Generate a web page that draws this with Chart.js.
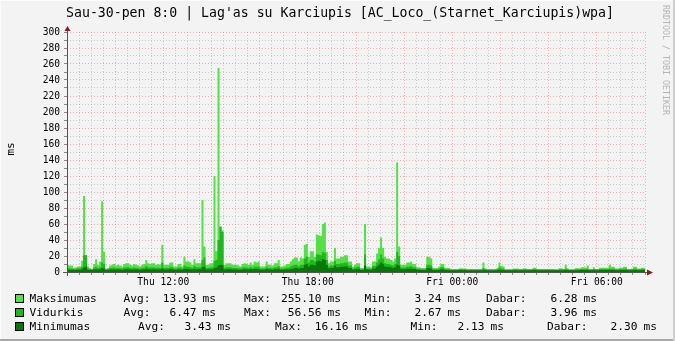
<!DOCTYPE html>
<html>
<head>
<meta charset="utf-8">
<script src="https://cdn.jsdelivr.net/npm/chart.js@4/dist/chart.umd.min.js"></script>
<style>
  html, body { margin: 0; padding: 0; background: #F3F3F3; }
  #graph { display: block; }
</style>
</head>
<body>
<canvas id="graph" width="675" height="341"></canvas>
<script>
/* RRD style lag graph - Karciupis AP */

const chartTitle = "Sau-30-pen 8:0 | Lag'as su Karciupis [AC_Loco_(Starnet_Karciupis)wpa]";
const yAxisTitle = 'ms';
const watermark = 'RRDTOOL / TOBI OETIKER';

// 5 minute steps, Thu 08:00 -> Fri 08:00
const stepMinutes = 5;
const xTickMinutes = [240, 600, 960, 1320];
const xTickLabels = ['Thu 12:00', 'Thu 18:00', 'Fri 00:00', 'Fri 06:00'];

const maxValues = [
  9, 9, 8, 8, 5, 6, 7, 7, 14, 95, 21, 7, 5, 4, 10, 16, 9, 13, 88, 25, 4, 5, 8, 9,
  10, 8, 9, 8, 7, 10, 11, 11, 9, 8, 10, 9, 8, 7, 9, 10, 15, 11, 10, 11, 11, 9, 10, 9,
  34, 9, 9, 9, 12, 12, 7, 7, 10, 10, 7, 19, 13, 13, 12, 9, 16, 11, 11, 11, 90, 32, 9, 9,
  11, 11, 120, 26, 255.1, 57, 52, 9, 11, 11, 11, 9, 9, 9, 8, 7, 10, 11, 10, 9, 12, 9, 13, 12,
  13, 7, 7, 7, 13, 9, 9, 8, 11, 11, 15, 7, 7, 8, 10, 10, 13, 16, 18, 18, 13, 18, 17, 34,
  35, 19, 26, 26, 19, 47, 46, 45, 60, 62, 25, 11, 13, 13, 30, 17, 17, 19, 19, 21, 21, 13, 13, 7,
  9, 11, 11, 5, 5, 60, 7, 7, 6, 13, 13, 23, 30, 43, 30, 19, 17, 17, 15, 13, 17, 137, 32, 9,
  9, 9, 12, 12, 13, 10, 10, 6, 6, 5, 5, 5, 19, 19, 17, 5, 5, 5, 7, 10, 10, 5, 5, 5,
  3.3, 3.4, 3.3, 3.5, 4.5, 4.6, 4.4, 4.5, 3.4, 3.3, 3.5, 3.3, 3.4, 3.3, 3.3, 3.4, 12, 4.5, 3.5, 3.4, 3.4, 3.3, 3.4, 5,
  12, 7.5, 7, 3.4, 3.3, 3.5, 3.4, 4.5, 4.4, 4.5, 3.8, 3.9, 4.5, 4.6, 3.8, 3.7, 3.8, 5.4, 5.3, 3.8, 3.7, 3.8, 3.9, 3.8,
  3.8, 3.9, 3.8, 3.8, 3.3, 3.3, 4.6, 4.6, 3.8, 9, 4.5, 3.3, 3.3, 3.4, 4.6, 4.6, 4.7, 5.8, 5.8, 5.7, 8, 3.8, 3.8, 5.8,
  3.8, 3.8, 5.4, 5.4, 5.4, 5.3, 5.4, 9, 6.7, 6.6, 4.5, 4.5, 5.4, 5.3, 6.7, 6.7, 3.8, 3.8, 4.5, 6.7, 6.6, 4.5, 4.5, 5.4
];

const avgValues = [
  4.5, 4.6, 4.4, 4.2, 3.6, 4.0, 4.5, 4.6, 6.5, 21, 21, 4.5, 3.8, 3.5, 5.5, 6.5, 5.0, 6.0, 12, 10, 3.5, 4.0, 5.0, 5.2,
  5.5, 4.8, 5.0, 4.8, 4.5, 5.5, 6.0, 5.8, 5.0, 4.8, 5.5, 5.0, 4.8, 4.5, 5.2, 5.5, 7.5, 6.0, 5.5, 6.0, 6.0, 5.2, 5.5, 5.0,
  12, 5.0, 5.2, 5.0, 6.5, 6.0, 4.5, 4.5, 5.5, 5.5, 4.5, 8.0, 6.5, 6.5, 6.0, 5.2, 7.5, 6.0, 6.0, 6.0, 15, 18, 5.0, 5.2,
  6.0, 6.0, 14, 15, 40, 56.56, 50, 5.0, 6.0, 6.0, 6.0, 5.0, 5.2, 5.0, 4.8, 4.5, 5.5, 6.0, 5.5, 5.0, 6.5, 5.0, 7.0, 6.5,
  7.0, 4.5, 4.5, 4.5, 7.0, 5.0, 5.0, 4.8, 6.0, 6.0, 7.5, 4.5, 4.5, 4.8, 5.5, 5.5, 7.0, 8.0, 9.0, 9.0, 7.0, 9.0, 9.0, 17,
  19, 12, 15, 15, 13, 22, 22, 21, 25, 24, 15, 7.0, 8.0, 8.0, 14, 10, 10, 11, 11, 12, 12, 8.0, 8.0, 4.5,
  5.5, 6.5, 6.5, 3.5, 3.5, 22, 4.5, 4.5, 4.0, 7.5, 7.5, 12, 16, 22, 17, 11, 10, 10, 9.0, 8.0, 10, 25, 20, 5.5,
  5.5, 5.5, 7.0, 7.0, 7.5, 6.0, 6.0, 4.0, 4.0, 3.5, 3.5, 3.5, 9.0, 9.0, 8.0, 3.5, 3.5, 3.5, 4.5, 6.0, 6.0, 3.5, 3.4, 3.3,
  3.0, 3.1, 3.0, 3.2, 3.4, 3.5, 3.3, 3.4, 3.1, 3.0, 3.2, 3.0, 3.1, 3.0, 3.0, 3.1, 5.0, 3.5, 3.2, 3.1, 3.1, 3.0, 3.1, 3.5,
  6.0, 4.5, 4.2, 2.9, 2.8, 3.0, 2.9, 3.4, 3.3, 3.4, 3.1, 3.2, 3.4, 3.5, 3.1, 3.0, 3.1, 3.8, 3.7, 3.1, 3.0, 3.1, 3.2, 3.1,
  3.1, 3.2, 3.1, 3.1, 2.8, 2.67, 3.4, 3.4, 3.1, 4.5, 3.4, 2.8, 2.8, 2.9, 3.4, 3.4, 3.5, 3.8, 3.8, 3.7, 4.0, 3.1, 3.1, 3.8,
  3.1, 3.1, 3.7, 3.7, 3.7, 3.6, 3.7, 4.5, 4.0, 4.0, 3.4, 3.4, 3.7, 3.6, 4.0, 4.0, 3.1, 3.1, 3.4, 4.0, 4.0, 3.4, 3.4, 3.7
];

const minValues = [
  2.8, 2.9, 2.8, 2.7, 2.5, 2.6, 2.8, 2.9, 3.5, 6.0, 6.5, 2.8, 2.6, 2.5, 3.2, 3.5, 3.0, 3.4, 5.0, 4.5, 2.5, 2.6, 3.0, 3.1,
  3.2, 3.0, 3.1, 3.0, 2.9, 3.2, 3.4, 3.3, 3.1, 3.0, 3.2, 3.1, 3.0, 2.9, 3.1, 3.2, 4.0, 3.4, 3.2, 3.4, 3.4, 3.1, 3.2, 3.0,
  4.5, 3.0, 3.1, 3.0, 3.6, 3.4, 2.9, 2.9, 3.2, 3.2, 2.9, 4.0, 3.6, 3.6, 3.4, 3.1, 4.0, 3.4, 3.4, 3.4, 6.0, 7.0, 3.0, 3.1,
  3.4, 3.4, 5.0, 5.5, 8.0, 9.0, 8.5, 3.0, 3.4, 3.4, 3.4, 3.0, 3.1, 3.0, 2.9, 2.8, 3.2, 3.4, 3.2, 3.0, 3.6, 3.0, 3.8, 3.6,
  3.8, 2.9, 2.9, 2.9, 3.8, 3.0, 3.0, 2.9, 3.4, 3.4, 4.0, 2.9, 2.9, 3.0, 3.2, 3.2, 3.8, 4.2, 5.0, 5.0, 4.0, 5.0, 5.0, 9.0,
  10, 7.0, 9.0, 9.0, 8.0, 13, 14, 13, 16.16, 15, 9.0, 4.5, 5.0, 5.0, 8.0, 6.0, 6.0, 6.5, 6.5, 7.0, 7.0, 5.0, 5.0, 3.0,
  3.4, 3.8, 3.8, 2.5, 2.5, 8.0, 3.0, 3.0, 2.8, 4.5, 4.5, 7.0, 9.0, 12, 10, 7.0, 6.5, 6.5, 6.0, 5.0, 6.0, 9.0, 8.0, 3.4,
  3.4, 3.4, 4.0, 4.0, 4.2, 3.6, 3.6, 2.8, 2.8, 2.5, 2.5, 2.5, 5.0, 5.0, 4.5, 2.5, 2.5, 2.5, 2.9, 3.5, 3.5, 2.5, 2.4, 2.3,
  2.2, 2.3, 2.2, 2.3, 2.4, 2.4, 2.3, 2.4, 2.2, 2.2, 2.3, 2.2, 2.2, 2.2, 2.2, 2.3, 2.8, 2.4, 2.3, 2.2, 2.2, 2.2, 2.2, 2.4,
  2.9, 2.6, 2.5, 2.2, 2.13, 2.2, 2.2, 2.3, 2.3, 2.3, 2.2, 2.2, 2.3, 2.3, 2.2, 2.2, 2.2, 2.5, 2.5, 2.2, 2.2, 2.2, 2.3, 2.2,
  2.2, 2.3, 2.2, 2.2, 2.15, 2.15, 2.3, 2.3, 2.2, 2.6, 2.3, 2.15, 2.15, 2.2, 2.3, 2.3, 2.4, 2.5, 2.5, 2.5, 2.6, 2.2, 2.2, 2.5,
  2.2, 2.2, 2.4, 2.4, 2.4, 2.4, 2.4, 2.6, 2.5, 2.5, 2.3, 2.3, 2.4, 2.4, 2.5, 2.5, 2.2, 2.2, 2.3, 2.5, 2.5, 2.3, 2.3, 2.4
];

// legend
const seriesNames = ['Maksimumas', 'Vidurkis', 'Minimumas'];
const seriesColors = ['#55E04A', '#1EB81E', '#0A760A'];
const statAvg = ['13.93', '6.47', '3.43'];
const statMax = ['255.10', '56.56', '16.16'];
const statMin = ['3.24', '2.67', '2.13'];
const statNow = ['6.28', '3.96', '2.30'];

const MONO = '"DejaVu Sans Mono", monospace';
const MINOR = 'rgba(150,150,150,0.45)';
const MAJOR = 'rgba(220,100,100,0.45)';

function toPoints(values) {
  const pts = values.map((v, i) => ({ x: i * stepMinutes, y: v }));
  pts.push({ x: values.length * stepMinutes, y: values[values.length - 1] });
  return pts;
}

function areaDataset(label, values, color) {
  return {
    label,
    data: toPoints(values),
    stepped: 'after',
    fill: 'origin',
    backgroundColor: color,
    borderColor: 'rgba(0,0,0,0)',
    borderWidth: 0,
    pointRadius: 0,
    tension: 0
  };
}

// legend row layout: label x positions (Avg:, Max:, Min:, Dabar:) and unit x positions
const legendLabelX = [
  [124, 244.5, 365, 486.5],
  [124, 244.5, 365, 486.5],
  [138.5, 275.5, 411, 547.5]
];
const legendUnitX = [
  [203, 328, 448, 584],
  [203, 328, 448, 584],
  [218, 355, 491, 644]
];

const rrdDecor = {
  id: 'rrdDecor',
  beforeDraw(chart) {
    const c = chart.ctx;
    c.save();
    c.fillStyle = '#F3F3F3';
    c.fillRect(0, 0, chart.width, chart.height);
    c.restore();
  },
  afterDatasetsDraw(chart) {
    const c = chart.ctx;
    const a = chart.chartArea;
    c.save();
    // axes
    c.strokeStyle = '#555';
    c.lineWidth = 1;
    c.beginPath();
    c.moveTo(a.left + 0.5, a.bottom + 4);
    c.lineTo(a.left + 0.5, a.top - 3);
    c.moveTo(a.left - 4, a.bottom + 0.5);
    c.lineTo(a.right + 3, a.bottom + 0.5);
    c.stroke();
    // arrows
    c.fillStyle = '#8B1A1A';
    c.beginPath();
    c.moveTo(a.left + 0.5, a.top - 6);
    c.lineTo(a.left - 2.5, a.top - 1);
    c.lineTo(a.left + 3.5, a.top - 1);
    c.closePath();
    c.fill();
    c.beginPath();
    c.moveTo(a.right + 8, a.bottom + 0.5);
    c.lineTo(a.right + 2, a.bottom - 2.5);
    c.lineTo(a.right + 2, a.bottom + 3.5);
    c.closePath();
    c.fill();
    c.restore();
  },
  afterDraw(chart) {
    const c = chart.ctx;
    c.save();
    c.fillStyle = '#000';
    c.textBaseline = 'middle';

    // title
    c.font = '13.2px ' + MONO;
    c.textAlign = 'center';
    c.fillText(chartTitle, 340, 14);

    // y axis title
    c.save();
    c.translate(11, 149);
    c.rotate(-Math.PI / 2);
    c.font = '11px ' + MONO;
    c.fillText(yAxisTitle, 0, 0);
    c.restore();

    // watermark
    c.save();
    c.translate(665.5, 5);
    c.rotate(Math.PI / 2);
    c.font = '8.3px ' + MONO;
    c.fillStyle = '#B4B4B4';
    c.textAlign = 'left';
    c.fillText(watermark, 0, 0);
    c.restore();

    // legend
    c.font = '11.2px ' + MONO;
    seriesNames.forEach((name, r) => {
      const y = 299 + r * 14;
      c.fillStyle = seriesColors[r];
      c.fillRect(15.5, y - 4.5, 8, 8);
      c.strokeStyle = '#000';
      c.lineWidth = 1;
      c.strokeRect(15.5, y - 4.5, 8, 8);
      c.fillStyle = '#000';
      c.textAlign = 'left';
      c.fillText(name, 29.5, y);
      const labels = ['Avg:', 'Max:', 'Min:', 'Dabar:'];
      const nums = [statAvg[r], statMax[r], statMin[r], statNow[r]];
      labels.forEach((t, k) => {
        c.textAlign = 'left';
        c.fillText(t, legendLabelX[r][k] - 0.5, y);
        c.fillText('ms', legendUnitX[r][k] - 0.5, y);
        c.textAlign = 'right';
        c.fillText(nums[k], legendUnitX[r][k] - 6.5, y);
      });
    });

    // frame
    c.fillStyle = '#FCFCFC';
    c.fillRect(0, 0, chart.width, 1);
    c.fillRect(0, 0, 1, chart.height);
    c.fillStyle = '#A8A8A8';
    c.fillRect(0, chart.height - 2, chart.width, 2);
    c.fillStyle = '#CFCFCF';
    c.fillRect(chart.width - 2, 0, 2, chart.height);
    c.restore();
  }
};

const gridColor = (ctx, major) => (ctx.tick && ctx.tick.value % major === 0 ? MAJOR : MINOR);

new Chart(document.getElementById('graph'), {
  type: 'line',
  data: {
    datasets: [
      areaDataset(seriesNames[2], minValues, seriesColors[2]),
      areaDataset(seriesNames[1], avgValues, seriesColors[1]),
      areaDataset(seriesNames[0], maxValues, seriesColors[0])
    ]
  },
  options: {
    responsive: false,
    animation: false,
    devicePixelRatio: 1,
    layout: { padding: { top: 32, right: 30, left: 0, bottom: 0 } },
    plugins: {
      legend: { display: false },
      tooltip: { enabled: false },
      title: { display: false }
    },
    scales: {
      x: {
        type: 'linear',
        min: 0,
        max: maxValues.length * stepMinutes,
        afterFit(scale) { scale.height = 69; },
        border: { display: false, dash: [1, 2] },
        grid: {
          color: ctx => gridColor(ctx, 120),
          tickColor: '#888',
          tickLength: 3,
          drawTicks: true
        },
        ticks: {
          stepSize: 30,
          autoSkip: false,
          maxRotation: 0,
          padding: 2,
          color: '#000',
          font: { family: 'DejaVu Sans Mono', size: 9.6 },
          callback: v => {
            const k = xTickMinutes.indexOf(v);
            return k >= 0 ? xTickLabels[k] : '';
          }
        }
      },
      y: {
        min: 0,
        max: 300,
        afterFit(scale) { scale.width = 67; },
        border: { display: false, dash: [1, 2] },
        grid: {
          color: ctx => gridColor(ctx, 20),
          tickColor: '#888',
          tickLength: 3,
          drawTicks: true
        },
        ticks: {
          stepSize: 10,
          autoSkip: false,
          padding: 4,
          color: '#000',
          font: { family: 'DejaVu Sans Mono', size: 9.6 },
          callback: v => (v % 20 === 0 ? String(v) : '')
        }
      }
    }
  },
  plugins: [rrdDecor]
});
</script>
</body>
</html>
